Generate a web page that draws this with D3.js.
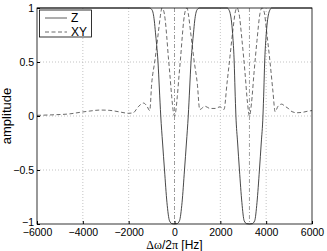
<!DOCTYPE html>
<html>
<head>
<meta charset="utf-8">
<script src="https://cdn.jsdelivr.net/npm/d3@7"></script>
<style>
    body { margin: 0; background: #fff; }
    text { font-family: "Liberation Sans", Arial, sans-serif; fill: #000; }
</style>
</head>
<body>
<script>
var xTicks = [-6000, -4000, -2000, 0, 2000, 4000, 6000];
var yTicks = [-1, -0.5, 0, 0.5, 1];
var yTickLabels = ["\u22121", "\u22120.5", "0", "0.5", "1"];
var legendNames = ["Z", "XY"];

// Z component (Hz, amplitude)
var zFreq = [-6000, -1100, -990, -930, -880, -830, -780, -720, -660, -600, -520, -436, -330, -218, -110, 0,
    110, 218, 330, 436, 520, 600, 660, 720, 780, 830, 880, 930, 990, 1100,
    2300, 2370, 2430, 2490, 2550, 2605, 2640, 2680, 2755, 2834, 2940, 3040, 3150, 3270,
    3390, 3500, 3600, 3706, 3785, 3860, 3900, 3935, 3990, 4050, 4110, 4170, 4240, 6000];
var zAmp = [1, 1, 0.985, 0.95, 0.88, 0.77, 0.66, 0.5, 0.25, 0, -0.25, -0.5, -0.8, -0.97, -0.997, -1,
    -0.997, -0.97, -0.8, -0.5, -0.25, 0, 0.25, 0.5, 0.66, 0.77, 0.88, 0.95, 0.985, 1,
    1, 0.985, 0.95, 0.87, 0.72, 0.5, 0.25, 0, -0.25, -0.5, -0.8, -0.97, -0.997, -1,
    -0.997, -0.97, -0.8, -0.5, -0.25, 0, 0.25, 0.5, 0.72, 0.87, 0.95, 0.985, 1, 1];

// XY component
var xyFreq = [-6000, -5200, -4560, -4120, -3690, -3250, -2820, -2380, -2000, -1800, -1580, -1350, -1200, -1080,
    -995, -850, -707, -600, -550, -480, -400, -340, -270, -200, -122, -52, 0,
    52, 122, 200, 270, 340, 400, 480, 550, 600, 707, 850, 995, 1100,
    1330, 1550, 1770, 1990, 2160, 2290, 2420, 2550, 2660, 2727, 2815, 2946, 3077, 3186, 3270,
    3360, 3470, 3600, 3730, 3818, 3906, 4037, 4168, 4299, 4390,
    4517, 4678, 4822, 4967, 5128, 5346, 5608, 5826, 6000];
var xyAmp = [0.006, 0.012, 0.02, 0.034, 0.046, 0.055, 0.052, 0.037, 0.025, 0.03, 0.086, 0.12, 0.09, 0.05,
    0.3, 0.52, 0.77, 0.95, 1, 0.98, 0.88, 0.74, 0.55, 0.38, 0.18, 0.04, 0,
    0.04, 0.18, 0.38, 0.55, 0.74, 0.88, 0.98, 1, 0.95, 0.77, 0.52, 0.3, 0.06,
    0.09, 0.07, 0.07, 0.085, 0.06, 0.3, 0.55, 0.8, 0.97, 1, 0.95, 0.7, 0.4, 0.12, 0,
    0.12, 0.4, 0.7, 0.95, 1, 0.97, 0.75, 0.5, 0.22, 0.04,
    0.09, 0.11, 0.09, 0.07, 0.04, 0.03, 0.035, 0.045, 0.05];

// resonance markers (dash-dot verticals)
var markFreq = [0, 3270];

var width = 327,
    height = 251,
    margin = {left: 37, right: 15, top: 8, bottom: 27};

var svg = d3.select('body')
    .append('svg')
    .attr('width', width)
    .attr('height', height);

var x = d3.scaleLinear()
    .domain([-6000, 6000])
    .range([margin.left, width - margin.right]);
var y = d3.scaleLinear()
    .domain([-1, 1])
    .range([height - margin.bottom, margin.top]);

// grid
svg.append('g').selectAll('line')
    .data(xTicks.slice(1, -1))
    .enter().append('line')
    .attr('x1', function (d) { return x(d); })
    .attr('x2', function (d) { return x(d); })
    .attr('y1', y(1))
    .attr('y2', y(-1))
    .attr('stroke', '#aaa')
    .attr('stroke-width', 0.7)
    .attr('stroke-dasharray', '1,2');
svg.append('g').selectAll('line')
    .data(yTicks.slice(1, -1))
    .enter().append('line')
    .attr('x1', x(-6000))
    .attr('x2', x(6000))
    .attr('y1', function (d) { return y(d); })
    .attr('y2', function (d) { return y(d); })
    .attr('stroke', '#aaa')
    .attr('stroke-width', 0.7)
    .attr('stroke-dasharray', '1,2');

// markers
svg.append('g').selectAll('line')
    .data(markFreq)
    .enter().append('line')
    .attr('x1', function (d) { return x(d); })
    .attr('x2', function (d) { return x(d); })
    .attr('y1', y(1))
    .attr('y2', y(-1))
    .attr('stroke', '#888')
    .attr('stroke-width', 0.8)
    .attr('stroke-dasharray', '4,2,1,2');

var line = d3.line()
    .x(function (d) { return x(d[0]); })
    .y(function (d) { return y(d[1]); })
    .curve(d3.curveMonotoneX);

svg.append('path')
    .datum(d3.zip(xyFreq, xyAmp))
    .attr('d', line)
    .attr('fill', 'none')
    .attr('stroke', '#444')
    .attr('stroke-width', 0.8)
    .attr('stroke-dasharray', '4,2.5');

svg.append('path')
    .datum(d3.zip(zFreq, zAmp))
    .attr('d', line)
    .attr('fill', 'none')
    .attr('stroke', '#333')
    .attr('stroke-width', 0.9);

// axes box
svg.append('rect')
    .attr('x', x(-6000))
    .attr('y', y(1))
    .attr('width', x(6000) - x(-6000))
    .attr('height', y(-1) - y(1))
    .attr('fill', 'none')
    .attr('stroke', '#000')
    .attr('stroke-width', 0.8);

var xAxis = d3.axisBottom(x).tickValues(xTicks).tickSizeInner(-3).tickSizeOuter(0)
    .tickFormat(function (d) { return d < 0 ? '\u2212' + Math.abs(d) : d; });
var gx = svg.append('g')
    .attr('transform', 'translate(0,' + y(-1) + ')')
    .call(xAxis);
gx.select('.domain').remove();
gx.selectAll('line').attr('stroke', '#000');
gx.selectAll('text').attr('y', 5).attr('dy', '0.71em').style('font-size', '10.5px');

var yAxis = d3.axisLeft(y).tickValues(yTicks).tickSizeInner(-3).tickSizeOuter(0)
    .tickFormat(function (d, i) { return yTickLabels[i]; });
var gy = svg.append('g')
    .attr('transform', 'translate(' + x(-6000) + ',0)')
    .call(yAxis);
gy.select('.domain').remove();
gy.selectAll('line').attr('stroke', '#000');
gy.selectAll('text').attr('x', -3).style('font-size', '10.5px');
// lift the bottom label a touch so it clears -6000
gy.selectAll('text').filter(function (d) { return d === -1; }).attr('dy', '0.1em');

// axis labels
var xl = svg.append('text')
    .attr('x', x(0))
    .attr('y', 248.5)
    .attr('text-anchor', 'middle')
    .style('font-size', '12px');
xl.append('tspan').style('font-family', '"Liberation Serif", serif').text('\u0394\u03c9');
xl.append('tspan').text('/2');
xl.append('tspan').style('font-family', '"Liberation Serif", serif').text('\u03c0');
xl.append('tspan').text(' [Hz]');

svg.append('text')
    .attr('transform', 'translate(11,' + y(0) + ') rotate(-90)')
    .attr('text-anchor', 'middle')
    .style('font-size', '13px')
    .text('amplitude');

// legend
var legend = svg.append('g');
legend.append('rect')
    .attr('x', 39.5)
    .attr('y', 10)
    .attr('width', 52)
    .attr('height', 27)
    .attr('fill', '#fff')
    .attr('stroke', '#000')
    .attr('stroke-width', 0.8);
legend.selectAll('line')
    .data(legendNames)
    .enter().append('line')
    .attr('x1', 45)
    .attr('x2', 67)
    .attr('y1', function (d, i) { return 18 + i * 14; })
    .attr('y2', function (d, i) { return 18 + i * 14; })
    .attr('stroke', function (d, i) { return i ? '#444' : '#333'; })
    .attr('stroke-width', 0.8)
    .attr('stroke-dasharray', function (d, i) { return i ? '4,2.5' : null; });
legend.selectAll('text')
    .data(legendNames)
    .enter().append('text')
    .attr('x', 71)
    .attr('y', function (d, i) { return 22 + i * 14; })
    .style('font-size', '12px')
    .text(function (d) { return d; });
</script>
</body>
</html>
